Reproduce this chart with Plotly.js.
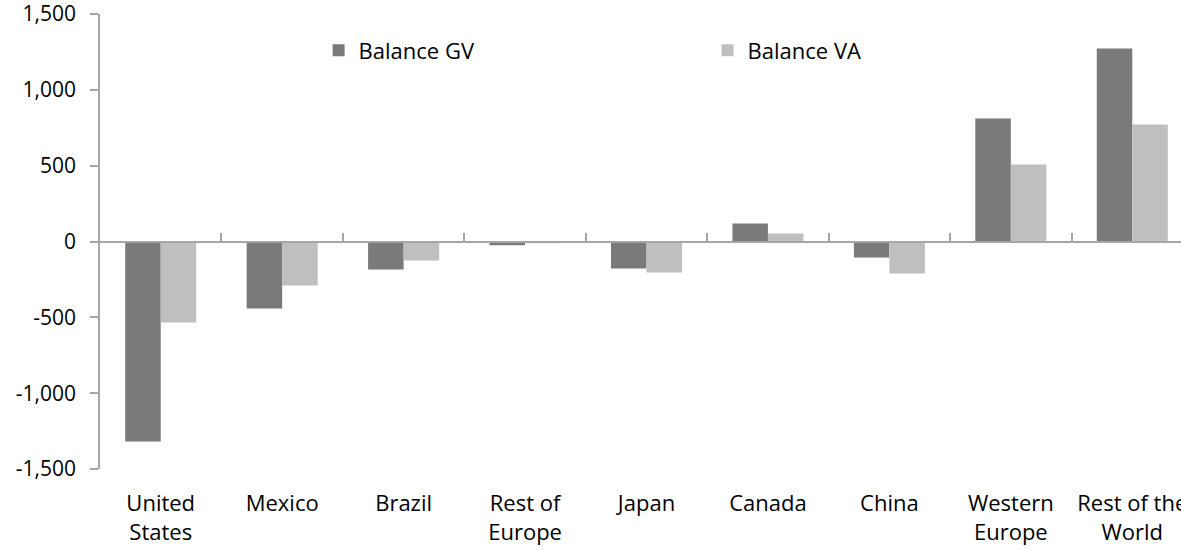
<!DOCTYPE html>
<html>
<head>
<meta charset="utf-8">
<script src="https://cdn.plot.ly/plotly-3.0.1.min.js"></script>
<style>
  html, body { margin: 0; padding: 0; overflow: hidden; background: #fff; }
  #chart { width: 1193px; height: 550px; }
</style>
</head>
<body>
<div id="chart"></div>
<script>
const categories = ["United States", "Mexico", "Brazil", "Rest of Europe", "Japan", "Canada", "China", "Western Europe", "Rest of the World"];
const tickLabels = ["United<br>States", "Mexico", "Brazil", "Rest of<br>Europe", "Japan", "Canada", "China", "Western<br>Europe", "Rest of the<br>World"];
const balanceGV = [-1318, -442, -185, -25, -178, 119, -105, 811, 1272];
const balanceVA = [-534, -290, -125, -12, -204, 53, -211, 508, 771];
const yTickVals = [-1500, -1000, -500, 0, 500, 1000, 1500];
const yTickText = ["-1,500", "-1,000", "-500", "0", "500", "1,000", "1,500"];

const FONT = "Open Sans, Lato, sans-serif";
const AXIS = "#a6a6a6";

const traces = [
  { type: "bar", name: "Balance GV", x: categories, y: balanceGV,
    marker: { color: "#7a7a7a", line: { width: 0 } }, hoverinfo: "x+y" },
  { type: "bar", name: "Balance VA", x: categories, y: balanceVA,
    marker: { color: "#bfbfbf", line: { width: 0 } }, hoverinfo: "x+y" },
  { type: "scatter", mode: "none", x: categories, y: categories.map(() => null),
    xaxis: "x2", yaxis: "y", showlegend: false, hoverinfo: "skip" }
];

const layout = {
  width: 1193, height: 550,
  margin: { l: 100, r: 0, t: 14, b: 81 },
  paper_bgcolor: "#fff", plot_bgcolor: "#fff",
  font: { family: FONT, size: 21, color: "#000" },
  barmode: "group", bargap: 0.415, bargroupgap: 0,
  showlegend: true,
  legend: {
    orientation: "h", x: 0.2, xanchor: "left", y: 0.92, yanchor: "middle",
    entrywidth: 344, entrywidthmode: "pixels",
    font: { family: FONT, size: 22, color: "#000" },
    bgcolor: "rgba(0,0,0,0)", itemclick: false, itemdoubleclick: false
  },
  xaxis: {
    type: "category", categoryorder: "array", categoryarray: categories,
    tickvals: categories, ticktext: tickLabels,
    range: [-0.5, 8.5], showline: false, showgrid: false, zeroline: false,
    ticks: "outside", ticklen: 0, ticklabelstandoff: 15,
    tickfont: { family: FONT, size: 22, color: "#000" }, fixedrange: true
  },
  xaxis2: {
    type: "category", categoryorder: "array", categoryarray: categories,
    overlaying: "x", anchor: "free", position: 0.5, side: "bottom",
    range: [-0.5, 8.5], showline: true, linecolor: AXIS, linewidth: 1.5,
    ticks: "inside", tickson: "boundaries", ticklen: 8, tickcolor: AXIS, tickwidth: 1.5,
    showticklabels: false, showgrid: false, zeroline: false, fixedrange: true
  },
  yaxis: {
    range: [-1500, 1500], tickvals: yTickVals, ticktext: yTickText,
    showline: true, linecolor: AXIS, linewidth: 1.5,
    ticks: "outside", ticklen: 8, tickcolor: AXIS, tickwidth: 1.5,
    ticklabelstandoff: 10, ticklabeloverflow: "allow",
    showgrid: false, zeroline: false,
    tickfont: { family: FONT, size: 21, color: "#000" }, fixedrange: true
  }
};

Plotly.newPlot("chart", traces, layout, { displayModeBar: false });
</script>
</body>
</html>
